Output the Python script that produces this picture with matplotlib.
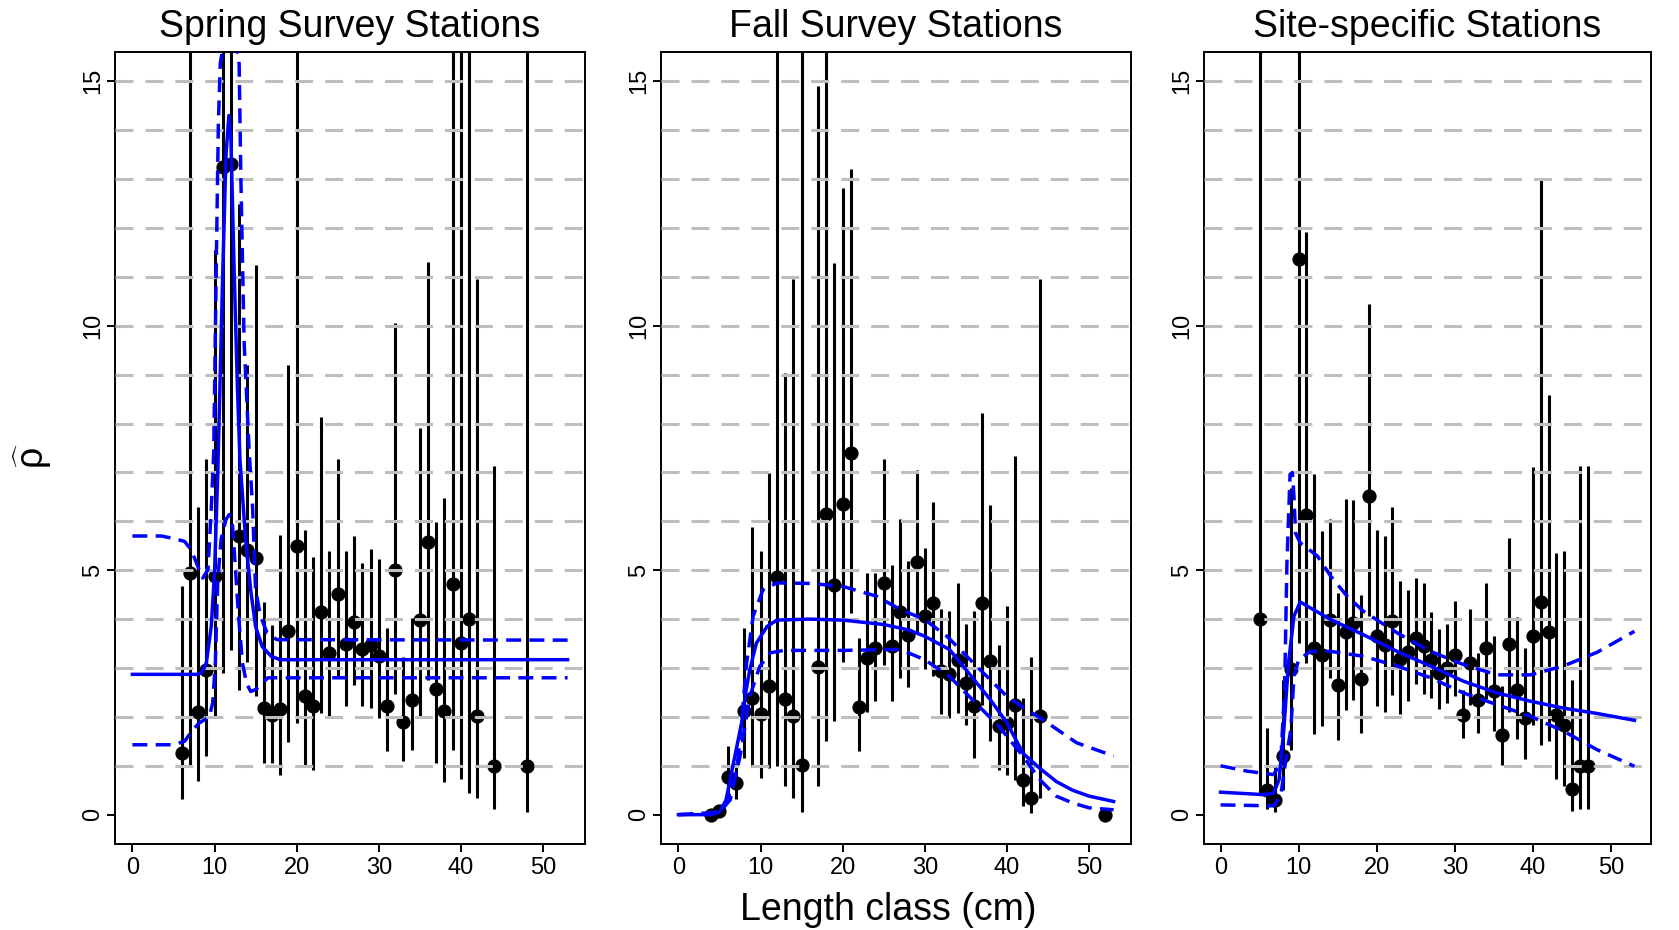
import numpy as np
import matplotlib
matplotlib.use('Agg')
import matplotlib.pyplot as plt

plt.rcParams['font.family'] = ['Liberation Sans', 'DejaVu Sans']
plt.rcParams['mathtext.fontset'] = 'custom'
plt.rcParams['mathtext.rm'] = 'Liberation Sans'
plt.rcParams['mathtext.it'] = 'Liberation Sans'
plt.rcParams['mathtext.bf'] = 'Liberation Sans'

# ---------------- data ----------------
titles = ["Spring Survey Stations", "Fall Survey Stations", "Site-specific Stations"]
x_label = "Length class (cm)"
x_ticks = [0, 10, 20, 30, 40, 50]
y_ticks = [0, 5, 10, 15]
grid_levels = [1, 2, 3, 4, 5, 6, 7, 8, 9, 10, 11, 12, 13, 14, 15]

# Spring survey: estimates with interval bounds (20 = beyond the plotted range)
spring_x = [6, 7, 8, 9, 10, 11, 12, 13, 14, 15, 16, 17, 18, 19, 20, 21, 22, 23, 24, 25,
            26, 27, 28, 29, 30, 31, 32, 33, 34, 35, 36, 37, 38, 39, 40, 41, 42, 44, 48]
spring_y = [1.26, 4.94, 2.11, 2.96, 4.88, 13.25, 13.3, 5.71, 5.42, 5.25, 2.18, 2.04, 2.16, 3.75, 5.5,
            2.42, 2.23, 4.14, 3.31, 4.52, 3.49, 3.94, 3.39, 3.48, 3.25, 2.23, 5.01, 1.89, 2.34, 3.98,
            5.57, 2.57, 2.13, 4.71, 3.51, 4.0, 2.01, 1.0, 1.0]
spring_lo = [0.32, 1.0, 0.68, 1.19, 2.0, 2.9, 3.37, 2.55, 3.13, 2.42, 1.06, 1.06, 0.82, 1.49, 1.88,
             0.98, 0.92, 2.08, 1.98, 2.8, 2.23, 2.66, 2.23, 2.18, 1.98, 1.3, 2.46, 1.09, 1.32, 2.0,
             2.75, 1.06, 0.66, 1.33, 0.72, 0.44, 0.34, 0.12, 0.05]
spring_hi = [4.68, 20, 6.3, 7.27, 11.55, 20, 20, 12.5, 9.2, 11.24, 4.36, 3.88, 5.73, 9.2, 20,
             5.83, 5.27, 8.14, 5.39, 7.28, 5.39, 5.71, 5.15, 5.44, 5.22, 3.82, 10.05, 3.23, 4.02, 7.9,
             11.31, 5.98, 6.48, 20, 20, 20, 10.95, 7.14, 20]
spring_fit_x = [0, 8.0, 8.5, 9.0, 9.6, 10.0, 10.4, 11.0, 11.4, 11.75, 12.0, 12.4, 12.8, 13.1, 13.8,
                14.4, 15.0, 15.8, 16.9, 18.0, 53]
spring_fit_y = [2.87, 2.87, 2.92, 3.1, 3.85, 4.94, 7.0, 11.07, 13.5, 14.3, 13.8, 11.07, 8.68, 7.25, 5.6,
                4.6, 3.85, 3.44, 3.24, 3.17, 3.17]
spring_up_x = [0, 3.5, 5.0, 6.35, 7.15, 7.96, 8.57, 9.2, 9.58, 9.9, 10.2, 10.47, 10.7, 11.8, 13.0,
               13.2, 13.6, 14.2, 14.63, 15.0, 15.6, 16.4, 17.6, 53]
spring_up_y = [5.7, 5.7, 5.65, 5.59, 5.42, 5.08, 4.84, 5.01, 6.17, 7.4, 11.07, 14.14, 15.36, 16.5, 15.36,
               13.1, 9.69, 7.5, 6.3, 4.6, 4.06, 3.72, 3.58, 3.57]
spring_low_x = [0, 5.0, 6.35, 7.36, 8.17, 8.77, 9.38, 9.78, 10.1, 10.4, 10.8, 11.4, 11.8, 12.2, 12.5,
                12.9, 13.4, 13.9, 14.4, 15.0, 15.8, 16.5, 53]
spring_low_y = [1.43, 1.43, 1.5, 1.74, 1.88, 1.94, 2.01, 2.29, 3.1, 4.81, 5.63, 6.04, 6.14, 5.9, 5.15,
                4.13, 3.1, 2.69, 2.52, 2.56, 2.69, 2.8, 2.8]

# Fall survey
fall_x = [4, 5, 6, 7, 8, 9, 10, 11, 12, 13, 14, 15, 17, 18, 19, 20, 21, 22, 23, 24, 25,
          26, 27, 28, 29, 30, 31, 32, 33, 34, 35, 36, 37, 38, 39, 40, 41, 42, 43, 44, 52]
fall_y = [0.0, 0.08, 0.78, 0.65, 2.13, 2.39, 2.05, 2.63, 4.86, 2.37, 2.01, 1.02, 3.02, 6.14, 4.69,
          6.36, 7.39, 2.2, 3.21, 3.41, 4.74, 3.44, 4.14, 3.68, 5.16, 4.06, 4.32, 2.93, 2.87, 3.17,
          2.69, 2.22, 4.32, 3.14, 1.81, 1.88, 2.25, 0.7, 0.34, 2.01, 0.0]
fall_lo = [0.0, 0.02, 0.34, 0.32, 1.16, 0.98, 0.75, 0.95, 0.99, 0.59, 0.34, 0.05, 0.59, 1.5, 1.91,
           3.12, 4.13, 1.3, 2.11, 2.32, 3.07, 2.32, 2.8, 2.61, 3.7, 2.97, 2.84, 2.05, 1.98, 2.08,
           1.84, 1.16, 2.25, 1.5, 0.91, 0.82, 0.7, 0.18, 0.03, 0.34, 0.0]
fall_hi = [0.05, 0.2, 1.41, 1.06, 3.82, 5.88, 5.39, 6.99, 20, 9.04, 10.95, 20, 14.9, 20, 11.29,
           12.81, 13.2, 3.62, 4.95, 4.95, 7.28, 5.1, 6.04, 5.18, 7.06, 5.46, 6.39, 4.2, 4.16, 4.73,
           3.89, 4.16, 8.21, 6.34, 3.48, 4.26, 7.33, 2.39, 3.22, 10.95, 0.03]
fall_fit_x = [0, 4, 5, 5.8, 6.3, 7.0, 7.7, 8.2, 8.7, 9.5, 10.8, 12, 16, 20, 25, 28, 30, 33, 35, 38,
              40, 42, 44, 46, 48, 50, 53]
fall_fit_y = [0.0, 0.0, 0.05, 0.3, 0.72, 1.3, 1.88, 2.5, 2.97, 3.51, 3.85, 3.98, 4.0, 3.98, 3.89,
              3.78, 3.65, 3.38, 2.97, 2.35, 1.88, 1.25, 0.95, 0.68, 0.5, 0.38, 0.27]
fall_up_x = [0, 4, 5, 6.0, 7.1, 7.7, 8.3, 9.1, 10.3, 12, 16, 20, 24.1, 27, 30, 32.7, 36.3, 40,
             42.4, 44.4, 48.5, 53]
fall_up_y = [0.0, 0.02, 0.1, 0.3, 0.9, 1.9, 3.1, 4.06, 4.6, 4.74, 4.73, 4.67, 4.47, 4.2, 3.99,
             3.65, 3.04, 2.42, 2.15, 1.94, 1.47, 1.2]
fall_low_x = [0, 5, 6.3, 7.5, 8.7, 9.9, 11.2, 12.8, 20, 27, 30, 33, 36, 39, 42, 44, 46, 48, 50, 53]
fall_low_y = [0.0, 0.05, 0.3, 1.19, 2.42, 3.03, 3.31, 3.36, 3.36, 3.38, 3.17, 2.83, 2.32, 1.81,
              1.19, 0.72, 0.38, 0.24, 0.14, 0.1]

# Site-specific stations
site_x = [5, 6, 7, 8, 9, 10, 11, 12, 13, 14, 15, 16, 17, 18, 19, 20, 21, 22, 23, 24, 25, 26,
          27, 28, 29, 30, 31, 32, 33, 34, 35, 36, 37, 38, 39, 40, 41, 42, 43, 44, 45, 46, 47]
site_y = [4.0, 0.51, 0.31, 1.19, 2.97, 11.36, 6.12, 3.41, 3.27, 3.98, 2.66, 3.73, 3.92, 2.78, 6.51,
          3.65, 3.48, 3.96, 3.19, 3.32, 3.62, 3.44, 3.17, 2.9, 3.0, 3.27, 2.03, 3.1, 2.35, 3.4,
          2.52, 1.62, 3.49, 2.56, 1.98, 3.65, 4.35, 3.73, 2.03, 1.84, 0.53, 1.0, 1.0]
site_lo = [0.44, 0.12, 0.05, 0.51, 1.33, 3.51, 3.1, 1.64, 1.81, 2.8, 1.52, 2.14, 2.34, 1.68, 4.06,
           2.23, 2.09, 2.44, 2.05, 2.32, 2.68, 2.46, 2.39, 2.16, 2.29, 2.42, 1.57, 2.25, 1.67, 2.37,
           1.71, 1.02, 2.11, 1.55, 1.14, 1.84, 1.43, 1.5, 0.73, 0.59, 0.07, 0.12, 0.12]
site_hi = [20, 1.77, 0.99, 2.76, 6.68, 20, 11.92, 6.96, 5.8, 6.04, 4.54, 6.46, 6.43, 4.5, 10.44,
           5.83, 5.71, 6.3, 4.77, 4.6, 4.84, 4.74, 4.14, 3.8, 3.89, 4.38, 2.56, 4.21, 3.31, 4.74,
           3.65, 2.63, 5.66, 4.04, 3.4, 7.11, 13.01, 8.58, 5.35, 5.39, 2.76, 7.13, 7.13]
site_fit_x = [0, 5.5, 6.8, 7.5, 8.1, 8.7, 9.4, 10.2, 14.1, 18.3, 22.6, 26.9, 31.1, 35.4, 39.7,
              43.9, 48.2, 53]
site_fit_y = [0.46, 0.41, 0.44, 0.72, 1.74, 3.1, 4.06, 4.35, 3.99, 3.68, 3.34, 3.04, 2.73, 2.49,
              2.32, 2.18, 2.07, 1.93]
site_up_x = [0, 3.4, 6.8, 7.7, 8.2, 8.5, 8.9, 9.2, 9.4, 9.6, 10.2, 12.4, 14.1, 16.2, 18.3, 22.6,
             26.9, 31.1, 35.4, 39.7, 43.9, 48.2, 53]
site_up_y = [1.0, 0.89, 0.82, 1.06, 2.56, 5.15, 6.96, 7.0, 6.51, 5.76, 5.56, 5.29, 4.88, 4.47,
             4.16, 3.72, 3.34, 3.07, 2.86, 2.86, 3.04, 3.32, 3.75]
site_low_x = [0, 6.8, 7.7, 8.3, 9.0, 9.4, 10.0, 11.5, 14.1, 18.3, 22.6, 26.9, 31.1, 35.4, 39.7,
              43.9, 48.2, 53]
site_low_y = [0.2, 0.18, 0.38, 1.06, 1.74, 2.83, 3.17, 3.34, 3.34, 3.24, 3.04, 2.8, 2.49, 2.25,
              2.01, 1.71, 1.33, 0.99]

panels = [
    dict(x=spring_x, y=spring_y, lo=spring_lo, hi=spring_hi,
         fit=(spring_fit_x, spring_fit_y), up=(spring_up_x, spring_up_y), low=(spring_low_x, spring_low_y)),
    dict(x=fall_x, y=fall_y, lo=fall_lo, hi=fall_hi,
         fit=(fall_fit_x, fall_fit_y), up=(fall_up_x, fall_up_y), low=(fall_low_x, fall_low_y)),
    dict(x=site_x, y=site_y, lo=site_lo, hi=site_hi,
         fit=(site_fit_x, site_fit_y), up=(site_up_x, site_up_y), low=(site_low_x, site_low_y)),
]

# ---------------- layout ----------------
W, H = 1679, 930
fig = plt.figure(figsize=(W / 100, H / 100), dpi=100)
fig.patch.set_facecolor('white')
boxes = [(115, 585), (661, 1131), (1204, 1651)]
top_px, bot_px = 52, 844

for (l, r), p, title in zip(boxes, panels, titles):
    ax = fig.add_axes([l / W, 1 - bot_px / H, (r - l) / W, (bot_px - top_px) / H])
    ax.vlines(p['x'], p['lo'], p['hi'], color='black', lw=2.2, zorder=2)
    ax.scatter(p['x'], p['y'], s=105, c='black', linewidths=0, zorder=3)
    for g in grid_levels:
        ax.axhline(g, color='#BEBEBE', lw=2.2, dashes=(5.9, 3.9), zorder=4)
    ax.plot(*p['fit'], color='#0000FF', lw=2.5, zorder=5, solid_joinstyle='round')
    ax.plot(*p['up'], color='#0000FF', lw=2.5, dashes=(4.3, 2.4), zorder=5)
    ax.plot(*p['low'], color='#0000FF', lw=2.5, dashes=(4.3, 2.4), zorder=5)

    ax.set_xlim(-2.12, 55.12)
    ax.set_ylim(-0.6, 15.6)
    ax.set_xticks(x_ticks)
    ax.set_yticks(y_ticks)
    for s in ax.spines.values():
        s.set_linewidth(1.4)
    ax.tick_params(direction='out', length=6, width=1.4, labelsize=17, top=False, right=False)
    ax.tick_params(axis='x', pad=3)
    ax.tick_params(axis='y', pad=2, labelrotation=90)
    for lab in ax.get_yticklabels():
        lab.set_va('center')
    fig.text((l + r) / 2 / W, 1 - 37 / H, title, ha='center', va='baseline', fontsize=27)

fig.text(888 / W, 1 - 920 / H, x_label, ha='center', va='baseline', fontsize=27)
fig.text(33 / W, 1 - 456 / H, r'$\widehat{\rho}$', ha='center', va='center', rotation=90, fontsize=27)

fig.savefig('out.png', dpi=100, facecolor='white')
